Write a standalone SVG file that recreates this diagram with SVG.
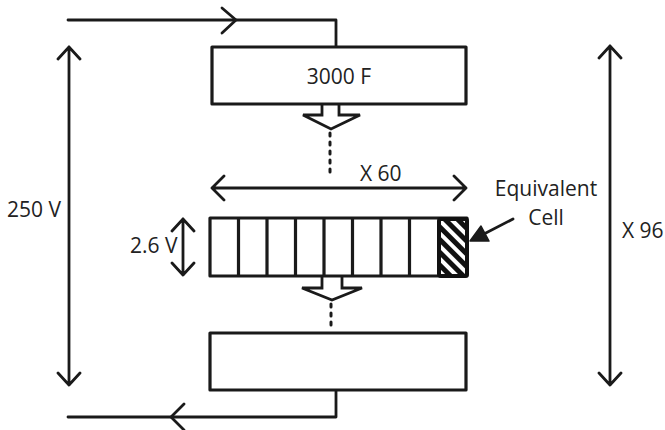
<svg xmlns="http://www.w3.org/2000/svg" width="665" height="430" viewBox="0 0 665 430">
  <style>
    .ln { fill: none; stroke: #1a1a1a; stroke-width: 2.8; stroke-linecap: round; stroke-linejoin: round; }
    .div { fill: none; stroke: #1a1a1a; stroke-width: 3.2; }
    .box { fill: #fff; stroke: #1a1a1a; stroke-width: 3.2; stroke-linejoin: round; }
    .blk { fill: #fff; stroke: #1a1a1a; stroke-width: 2.8; stroke-linejoin: miter; }
    .dot { fill: none; stroke: #1a1a1a; stroke-width: 3; stroke-linecap: round; stroke-dasharray: 3 6; }
    .t { font-family: "Open Sans", "Liberation Sans", sans-serif; font-size: 21px; fill: #222; }
  </style>
  <defs>
    <pattern id="hatch" width="9" height="9" patternUnits="userSpaceOnUse" patternTransform="rotate(-45)">
      <rect width="9" height="9" fill="#111"/>
      <rect width="4" height="9" fill="#fff"/>
    </pattern>
  </defs>

  <g id="connectors">
    <path class="ln" d="M68,20 H336 V47"/>
    <path class="ln" d="M222,8 L236,20 L222,33"/>
    <path class="ln" d="M336,390 V417 H68"/>
    <path class="ln" d="M184,404 L171,417 L184,430"/>
    <path class="blk" d="M322,104 V115 H303 L331,129 L360,115 H339 V104"/>
    <line class="dot" x1="330" y1="133" x2="330" y2="177"/>
    <path class="blk" d="M322,277 V288 H302 L332,300 L362,288 H342 V277"/>
    <line class="dot" x1="331" y1="304" x2="331" y2="330"/>
    <line class="ln" x1="513" y1="219" x2="482" y2="235"/>
    <path d="M470,241 L481,226 L489,241 Z" fill="#1a1a1a" stroke="#1a1a1a" stroke-width="1.5" stroke-linejoin="round"/>
  </g>

  <g id="dim-250V">
    <path class="ln" d="M69,47 V385 M58,59 L69,47 L80,59 M58,373 L69,385 L80,373"/>
    <text class="t" x="7" y="217">250 V</text>
  </g>

  <g id="dim-X96">
    <path class="ln" d="M610,46 V385 M599,58 L610,46 L621,58 M599,373 L610,385 L621,373"/>
    <text class="t" x="622" y="238">X 96</text>
  </g>

  <g id="dim-X60">
    <path class="ln" d="M212,188 H466 M224,176 L212,188 L224,200 M454,176 L466,188 L454,200"/>
    <text class="t" x="360" y="181">X 60</text>
  </g>

  <g id="dim-2-6V">
    <path class="ln" d="M183,219 V275 M172,231 L183,219 L194,231 M172,263 L183,275 L194,263"/>
    <text class="t" x="130" y="253">2.6 V</text>
  </g>

  <g id="top-box">
    <rect class="box" x="212" y="47" width="254" height="57"/>
    <text class="t" x="339" y="84" text-anchor="middle">3000 F</text>
  </g>

  <g id="cell-row">
    <rect class="box" x="210" y="218" width="257" height="58"/>
    <path class="div" d="M238.5,218 V276 M267,218 V276 M295.5,218 V276 M324,218 V276 M352.5,218 V276 M381,218 V276 M409.5,218 V276"/>
  </g>

  <g id="equivalent-cell">
    <rect x="439" y="219" width="28" height="57" rx="2" fill="url(#hatch)" stroke="#111" stroke-width="4"/>
    <text class="t" x="546" y="196" text-anchor="middle">Equivalent</text>
    <text class="t" x="546" y="225" text-anchor="middle">Cell</text>
  </g>

  <g id="bottom-box">
    <rect class="box" x="210" y="333" width="256" height="57"/>
  </g>
</svg>
